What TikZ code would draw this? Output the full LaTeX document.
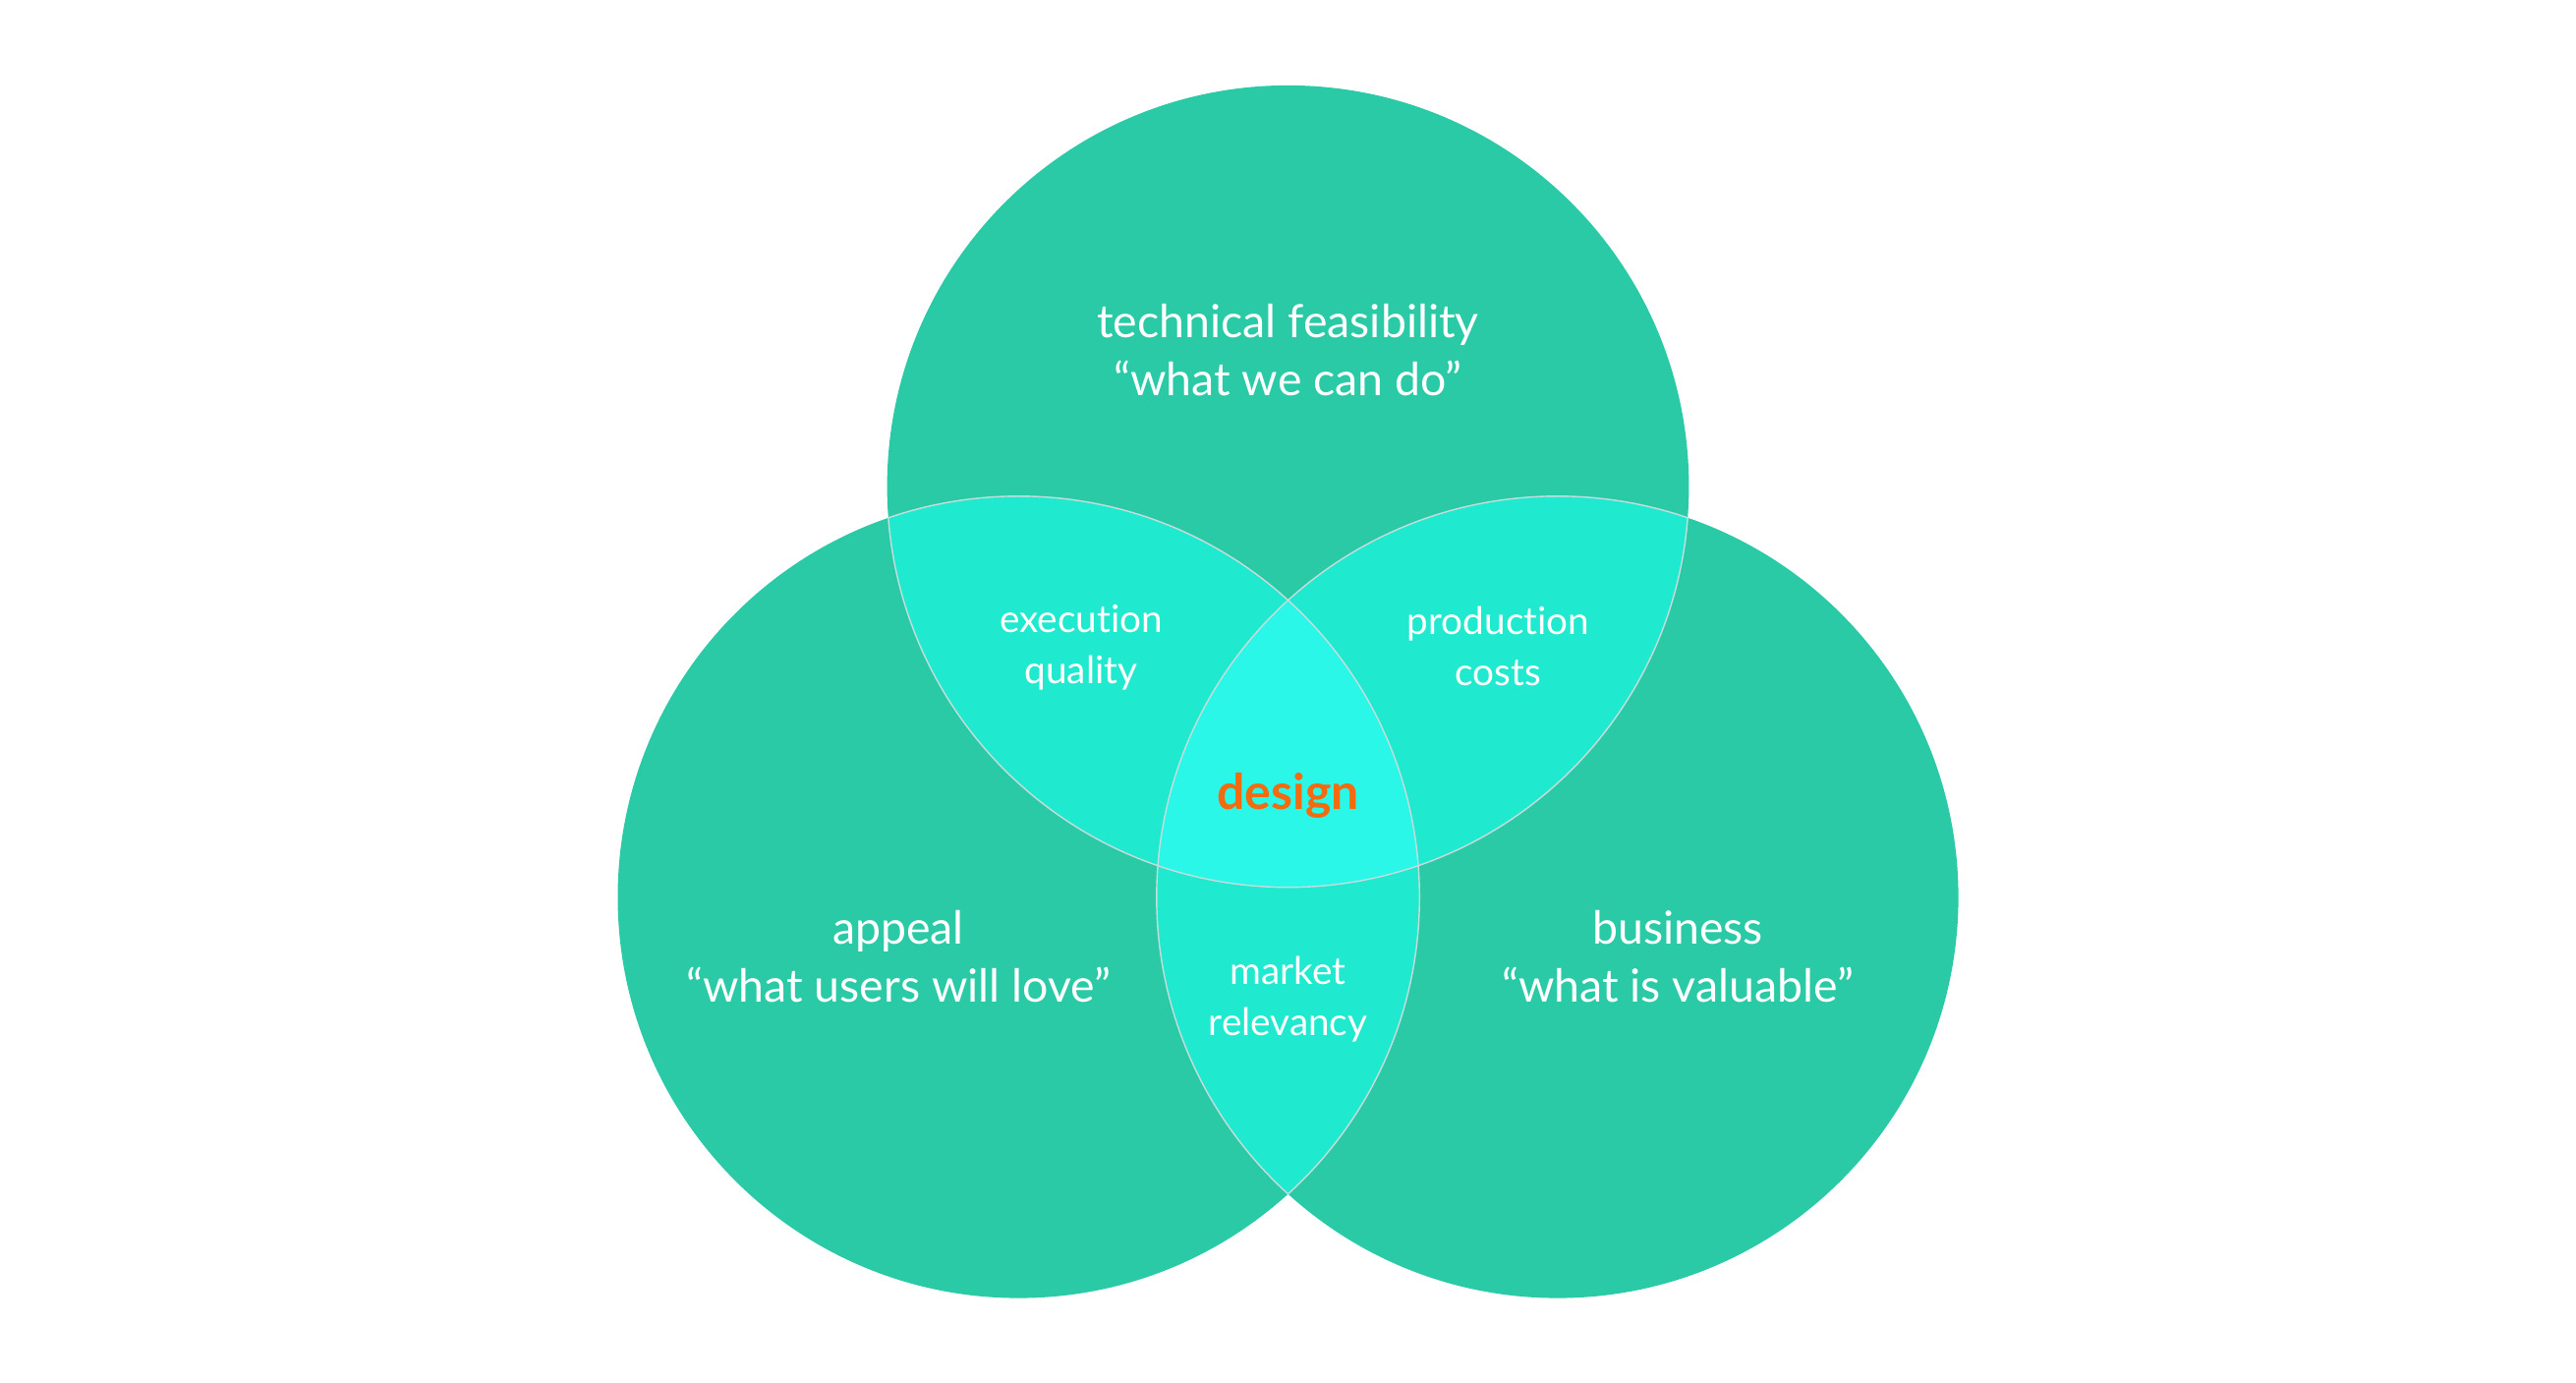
\documentclass[tikz,border=0pt]{standalone}
\usepackage{fontspec}
\setmainfont{Lato}[Ligatures=NoCommon]
\definecolor{outerc}{HTML}{2BCAA6}
\definecolor{pairc}{HTML}{1FE9CE}
\definecolor{centerc}{HTML}{2AF7E8}
\definecolor{designc}{HTML}{F46A0E}
\definecolor{edgec}{HTML}{C8DCDC}
\begin{document}
\begin{tikzpicture}[x=0.01cm,y=-0.01cm,
  bigtext/.style={text=white,align=center,font=\fontsize{13.2}{17}\selectfont},
  smalltext/.style={text=white,align=center,font=\fontsize{11}{14.8}\selectfont},
  designtext/.style={text=designc,font=\fontsize{14.2}{18}\selectfont\bfseries},
  edge/.style={draw=edgec,line width=0.4pt}]
\useasboundingbox (0,0) rectangle (2621,1407);
\fill[white] (0,0) rectangle (2621,1407);
\def\R{407.9}
\coordinate (T) at (1310.5,494.8);
\coordinate (L) at (1036.4,912.7);
\coordinate (B) at (1584.7,912.7);
% outer circles
\fill[outerc] (T) circle[radius=\R];
\fill[outerc] (L) circle[radius=\R];
\fill[outerc] (B) circle[radius=\R];
% pairwise overlaps
\begin{scope}\clip (T) circle[radius=\R]; \fill[pairc] (L) circle[radius=\R]; \fill[pairc] (B) circle[radius=\R];\end{scope}
\begin{scope}\clip (L) circle[radius=\R]; \fill[pairc] (B) circle[radius=\R];\end{scope}
% triple overlap
\begin{scope}\clip (T) circle[radius=\R]; \clip (L) circle[radius=\R]; \fill[centerc] (B) circle[radius=\R];\end{scope}
% inner edges
\begin{scope}\clip (L) circle[radius=\R] (B) circle[radius=\R]; \draw[edge] (T) circle[radius=\R];\end{scope}
\begin{scope}\clip (T) circle[radius=\R] (B) circle[radius=\R]; \draw[edge] (L) circle[radius=\R];\end{scope}
\begin{scope}\clip (T) circle[radius=\R] (L) circle[radius=\R]; \draw[edge] (B) circle[radius=\R];\end{scope}
% labels
\node[bigtext] (tech) at (1310.5,356) {technical feasibility\\“what we can do”};
\node[smalltext] (exec) at (1100,659) {execution\\quality};
\node[smalltext] (prod) at (1524.5,657) {production\\costs};
\node[designtext] (design) at (1310.5,809) {design};
\node[bigtext] (appeal) at (914,973) {appeal\\“what users will love”};
\node[bigtext] (business) at (1707,973) {business\\“what is valuable”};
\node[smalltext] (market) at (1310.5,1017) {market\\relevancy};
\end{tikzpicture}
\end{document}
